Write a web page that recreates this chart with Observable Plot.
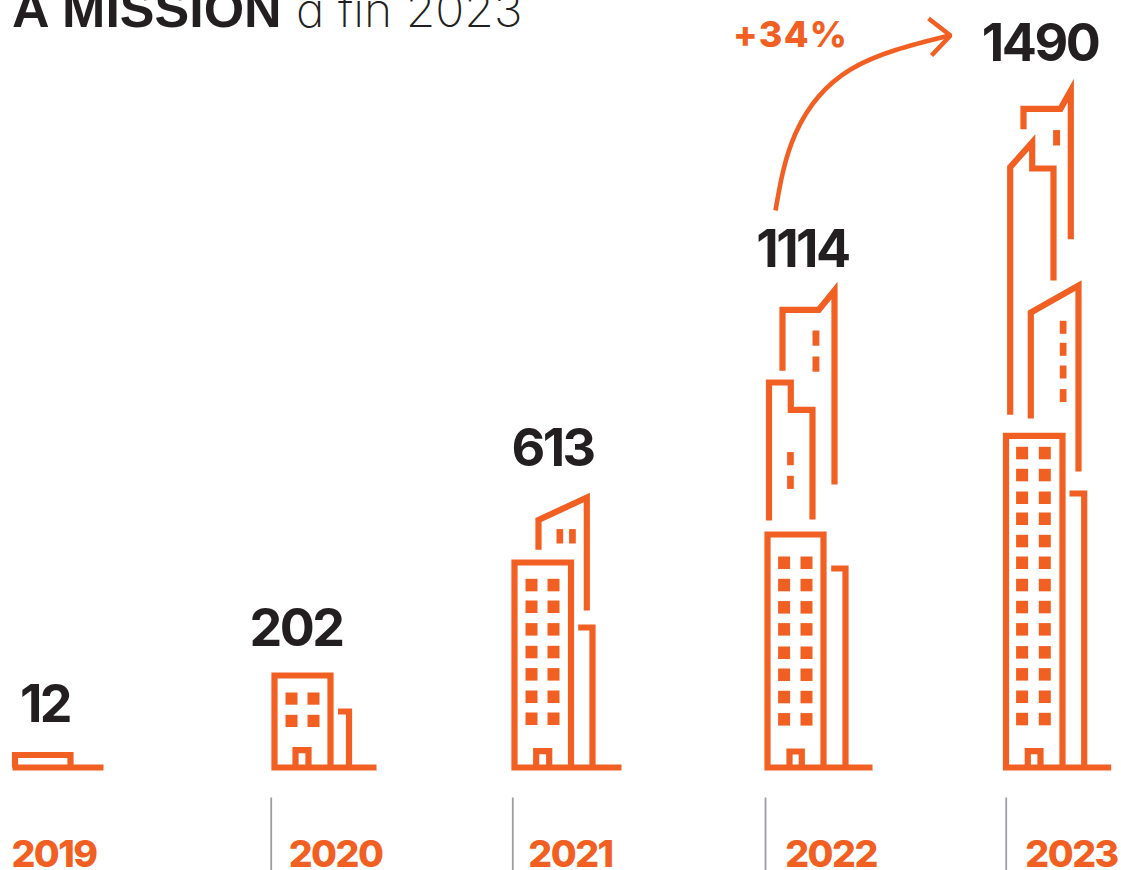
<!DOCTYPE html>
<html lang="fr">
<head>
<meta charset="utf-8">
<script src="https://cdn.jsdelivr.net/npm/d3@7"></script>
<script src="https://cdn.jsdelivr.net/npm/@observablehq/plot@0.6"></script>
<style>
html,body{margin:0;padding:0;background:#fff;overflow:hidden}
svg{display:block}
.num{letter-spacing:-2.5px}
.yr{letter-spacing:-1.5px}
.gr{letter-spacing:1.2px}
.lt{font-feature-settings:"cv11" 1}
</style>
</head>
<body>
<div id="chart"></div>
<script>
// ---- Chart content
const titleBold = "A MISSION";
const titleLight = "à fin 2023";
const years = [2019, 2020, 2021, 2022, 2023];
const values = [12, 202, 613, 1114, 1490];
const growth = "+34%";

// ---- Label anchors, in the drawing's units
const valueX = [44.5, 295.5, 552, 802, 1039.5];
const valueBase = [721.7, 645, 465, 266.7, 60.7];
const yearX = [53.5, 335, 570, 830.5, 1071];
const yearBase = 866.5;
const separatorX = [270.7, 512.3, 765, 1005.7];

// ---- Pictogram outlines, one polyline per entry
const outlines = [
  // 2019
  [[14.5,767],[14.5,754.5],[70,754.5],[70,767]],
  [[12,767],[103,767]],
  // 2020
  [[330,767],[330,675],[274,675],[274,767],[376,767]],
  [[337.5,711],[348.5,711],[348.5,767]],
  [[295,767],[295,749.7],[308,749.7],[308,767]],
  // 2021
  [[570.5,767],[570.5,562],[514,562],[514,767],[621,767]],
  [[577.7,627],[592,627],[592,767]],
  [[535.7,767],[535.7,750.7],[548.7,750.7],[548.7,767]],
  [[538,549.3],[538,519.5],[586.3,497],[586.3,610]],
  // 2022
  [[823,767],[823,534],[767,534],[767,767],[872,767]],
  [[830.7,568],[845,568],[845,767]],
  [[789,767],[789,751],[801.3,751],[801.3,767]],
  [[768.5,520],[768.5,382],[790.3,382],[790.3,409.3],[812,409.3],[812,519]],
  [[782,370.3],[782,309.3],[818.3,309.3],[834,290],[834,484]],
  // 2023
  [[1062,767],[1062,435.3],[1005.5,435.3],[1005.5,767],[1110.7,767]],
  [[1069,493],[1083.7,493],[1083.7,767]],
  [[1027.3,767],[1027.3,750.7],[1040,750.7],[1040,767]],
  [[1030.3,418],[1030.3,312],[1078,285],[1078,471]],
  [[1009.7,414.3],[1009.7,166.7],[1031.7,142],[1031.7,168],[1053,168],[1053,280]],
  [[1023,128.7],[1023,108.3],[1060,108.3],[1070.3,90],[1070.3,238.7]]
];

// ---- Window grids: column left edges, row top edges, pane width, pane height
const windowGrids = [
  [[285.5,307.5],[692.5,714.8],12,12.2],
  [[525.5,547.5],[578.8,600.5,623.1,645.8,668.1,690.5,712.5],12,12.5],
  [[556.5,569.1],[529.1],6.7,14.4],
  [[778.1,800.5],[556.5,578.8,601.1,623.1,646.5,668.5,690.8,713.1],12,12.5],
  [[787.1],[452.1,475.8],6.7,13.1],
  [[812.5],[330.5,356.5],6.9,15.2],
  [[1016.1,1038.8],[446.8,468.8,491.5,512.5,534.8,556.5,578.8,600.8,623.1,646.1,668.1,690.5,712.8],12,12.5],
  [[1059.8],[320.8,342.8,365.5,389.1],6.7,13],
  [[1053.1],[130.1],7,15.4]
];

// ---- Growth arrow
const arrowCurve = [[775,210],[795,133],[850,69],[947,35.5]];
const arrowHead = [[928,18],[950,35],[931,55]];

const orange = "#f25f22";
const ink = "#231f20";

const outlineRows = outlines.flatMap((pts, id) => pts.map(([x, y]) => ({x, y, id})));
const windowRows = windowGrids.flatMap(([cols, rows, w, h]) =>
  d3.cross(cols, rows).map(([x, y]) => ({x1: x, x2: x + w, y1: y, y2: y + h})));
const toRow = ([x, y]) => ({x, y});
const numberFont = "Inter, 'Noto Sans', sans-serif";

const chart = Plot.plot({
  width: 1121, height: 870,
  margin: 0,
  x: {domain: [0, 1121], range: [0, 1121], axis: null},
  y: {domain: [0, 870], range: [0, 870], axis: null},
  style: {background: "#fff"},
  marks: [
    Plot.ruleX(separatorX, {y1: 797.5, y2: 870, stroke: "#9b9fa3", strokeWidth: 1.8}),
    Plot.line(outlineRows, {x: "x", y: "y", z: "id", stroke: orange, strokeWidth: 6.2,
      strokeLinejoin: "miter", strokeMiterlimit: 12, strokeLinecap: "butt", curve: "linear"}),
    Plot.rect(windowRows, {x1: "x1", x2: "x2", y1: "y1", y2: "y2", fill: orange}),
    Plot.line(arrowCurve.map(toRow), {x: "x", y: "y", stroke: orange, strokeWidth: 4.6,
      curve: "natural", strokeLinecap: "butt"}),
    Plot.line(arrowHead.map(toRow), {x: "x", y: "y", stroke: orange, strokeWidth: 4.6,
      strokeLinejoin: "miter", strokeLinecap: "butt", curve: "linear"}),
    Plot.text(values, {x: (d, i) => valueX[i], y: (d, i) => valueBase[i], text: d => String(d),
      fontFamily: numberFont, fontWeight: 700, fontSize: 52, fill: ink,
      lineAnchor: "bottom", textAnchor: "middle", className: "num"}),
    Plot.text(years, {x: (d, i) => yearX[i], y: yearBase, text: d => String(d),
      fontFamily: numberFont, fontWeight: 800, fontSize: 37.5, fill: orange,
      lineAnchor: "bottom", textAnchor: "middle", className: "yr"}),
    Plot.text([growth], {x: 790, y: 46.5, text: d => d,
      fontFamily: numberFont, fontWeight: 800, fontSize: 36, fill: orange,
      lineAnchor: "bottom", textAnchor: "middle", className: "gr"}),
    Plot.text([titleBold], {x: 11.5, y: 26.5, text: d => d,
      fontFamily: "'Liberation Sans', Arial, sans-serif", fontWeight: 700, fontSize: 52, fill: ink,
      lineAnchor: "bottom", textAnchor: "start"}),
    Plot.text([titleLight], {x: 295.5, y: 26.5, text: d => d,
      fontFamily: "Inter, 'Liberation Sans', sans-serif", fontWeight: 200, fontSize: 48, fill: ink,
      lineAnchor: "bottom", textAnchor: "start", className: "lt"})
  ]
});
document.getElementById("chart").append(chart);
</script>
</body>
</html>
